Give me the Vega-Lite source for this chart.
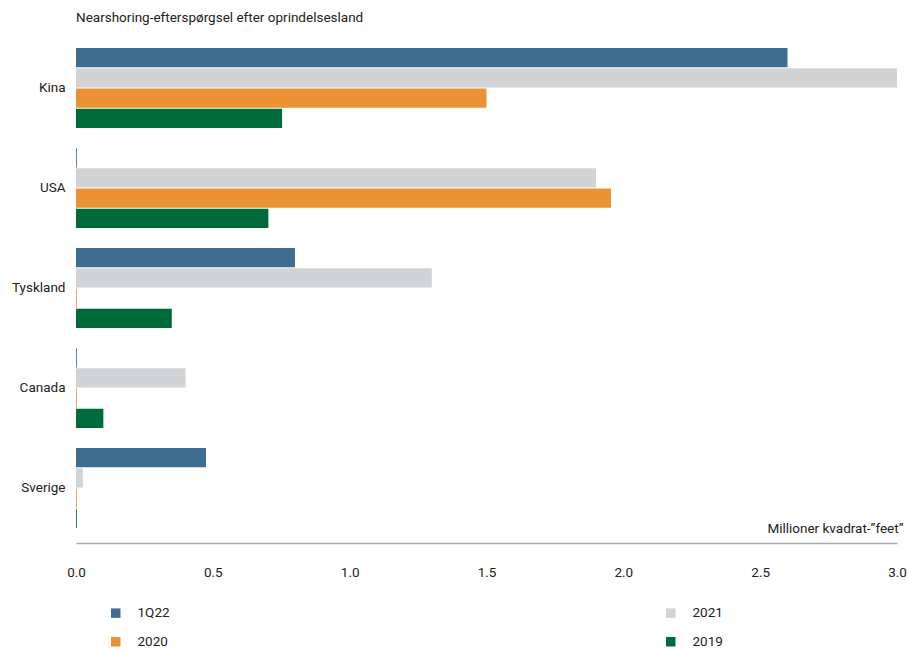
{
  "$schema": "https://vega.github.io/schema/vega-lite/v6.json",
  "autosize": {"type": "none"},
  "padding": {"left": 76, "top": 38, "right": 11, "bottom": 112},
  "width": 821,
  "height": 500,
  "background": "white",
  "config": {
    "font": "Liberation Sans Narrow, Roboto, sans-serif",
    "view": {"stroke": null}
  },
  "title": {
    "text": "Nearshoring-efterspørgsel efter oprindelsesland",
    "anchor": "start",
    "frame": "group",
    "offset": 14,
    "fontSize": 13.5,
    "fontWeight": "normal",
    "color": "#222222"
  },
  "data": {
    "values": [
      {"land": "Kina", "serie": "1Q22", "v": 2.6},
      {"land": "Kina", "serie": "2021", "v": 3.0},
      {"land": "Kina", "serie": "2020", "v": 1.5},
      {"land": "Kina", "serie": "2019", "v": 0.753},
      {"land": "USA", "serie": "1Q22", "v": 0.003},
      {"land": "USA", "serie": "2021", "v": 1.9},
      {"land": "USA", "serie": "2020", "v": 1.955},
      {"land": "USA", "serie": "2019", "v": 0.703},
      {"land": "Tyskland", "serie": "1Q22", "v": 0.8},
      {"land": "Tyskland", "serie": "2021", "v": 1.3},
      {"land": "Tyskland", "serie": "2020", "v": 0.003},
      {"land": "Tyskland", "serie": "2019", "v": 0.35},
      {"land": "Canada", "serie": "1Q22", "v": 0.003},
      {"land": "Canada", "serie": "2021", "v": 0.4},
      {"land": "Canada", "serie": "2020", "v": 0.003},
      {"land": "Canada", "serie": "2019", "v": 0.1},
      {"land": "Sverige", "serie": "1Q22", "v": 0.475},
      {"land": "Sverige", "serie": "2021", "v": 0.025},
      {"land": "Sverige", "serie": "2020", "v": 0.003},
      {"land": "Sverige", "serie": "2019", "v": 0.003}
    ]
  },
  "mark": {"type": "bar", "cornerRadius": 0},
  "encoding": {
    "y": {
      "field": "land",
      "type": "nominal",
      "sort": ["Kina", "USA", "Tyskland", "Canada", "Sverige"],
      "scale": {"paddingInner": 0.2, "paddingOuter": 0.1},
      "axis": {
        "title": null,
        "domain": false,
        "ticks": false,
        "labelPadding": 11,
        "labelFontSize": 13.5,
        "labelColor": "#222222"
      }
    },
    "yOffset": {
      "field": "serie",
      "type": "nominal",
      "sort": ["1Q22", "2021", "2020", "2019"],
      "scale": {"paddingInner": 0.05}
    },
    "x": {
      "field": "v",
      "type": "quantitative",
      "scale": {"domain": [0, 3], "nice": false},
      "axis": {
        "title": "Millioner kvadrat-”feet”",
        "titleFontSize": 13.5,
        "titleFontWeight": "normal",
        "titleColor": "#222222",
        "titleAnchor": "end",
        "titleAlign": "right",
        "titleBaseline": "middle",
        "titleX": 827,
        "titleY": -15,
        "values": [0, 0.5, 1, 1.5, 2, 2.5, 3],
        "format": ".1f",
        "offset": 5,
        "grid": false,
        "ticks": false,
        "domainColor": "#aaaaaa",
        "domainWidth": 1.5,
        "labelFlush": false,
        "labelPadding": 22,
        "labelFontSize": 13.5,
        "labelColor": "#222222"
      }
    },
    "color": {
      "field": "serie",
      "type": "nominal",
      "sort": ["1Q22", "2021", "2020", "2019"],
      "scale": {
        "domain": ["1Q22", "2021", "2020", "2019"],
        "range": ["#3e6d8f", "#d2d3d5", "#eb9334", "#006b3a"]
      },
      "legend": {
        "title": null,
        "orient": "none",
        "legendX": 33,
        "legendY": 568,
        "direction": "horizontal",
        "columns": 2,
        "columnPadding": 494,
        "rowPadding": 14,
        "symbolType": "square",
        "symbolSize": 90,
        "symbolStrokeWidth": 0,
        "symbolOpacity": 1,
        "labelOffset": 15,
        "labelFontSize": 13.5,
        "labelColor": "#222222"
      }
    }
  }
}
